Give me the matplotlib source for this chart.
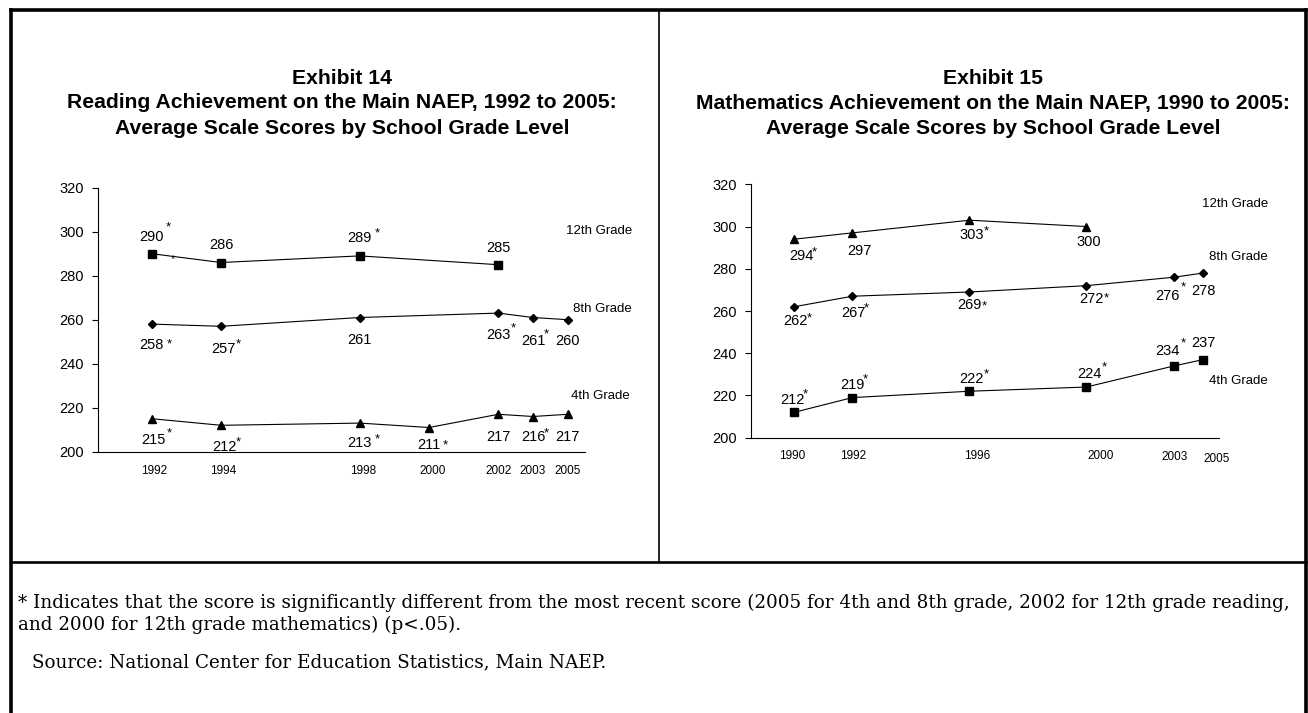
import matplotlib
matplotlib.use('Agg')
import matplotlib.pyplot as plt
from matplotlib.lines import Line2D

# Exhibit 14 - reading
read_years_12 = [1992, 1994, 1998, 2002]
read_12 = [290, 286, 289, 285]
read_12_sig = [1, 0, 1, 0]
read_years_8 = [1992, 1994, 1998, 2002, 2003, 2005]
read_8 = [258, 257, 261, 263, 261, 260]
read_8_sig = [1, 1, 0, 1, 1, 0]
read_years_4 = [1992, 1994, 1998, 2000, 2002, 2003, 2005]
read_4 = [215, 212, 213, 211, 217, 216, 217]
read_4_sig = [1, 1, 1, 1, 0, 1, 0]
read_ticks = ['1992', '1994', '1998', '2000', '2002', '2003', '2005']

# Exhibit 15 - mathematics
math_years_12 = [1990, 1992, 1996, 2000]
math_12 = [294, 297, 303, 300]
math_12_sig = [1, 0, 1, 0]
math_years = [1990, 1992, 1996, 2000, 2003, 2005]
math_8 = [262, 267, 269, 272, 276, 278]
math_8_sig = [1, 1, 1, 1, 1, 0]
math_4 = [212, 219, 222, 224, 234, 237]
math_4_sig = [1, 1, 1, 1, 1, 0]
math_ticks = ['1990', '1992', '1996', '2000', '2003', '2005']

W, H = 1308, 713
SANS = 'Liberation Sans'
LBL = 10.5   # data label size
STAR = 9.5


def xp(year):
    # the original charts squeeze 2005 right next to 2003
    return 2004 if year == 2005 else year


def fx(px):
    return px / W


def fy(py):
    return 1 - py / H


def series(ax, years, vals, sig, marker, ms, lab_off, star_off):
    xs = [xp(y) for y in years]
    ax.plot(xs, vals, color='black', lw=0.8, marker=marker, markersize=ms,
            markerfacecolor='black', markeredgecolor='black', clip_on=False)
    for i, (x, v) in enumerate(zip(xs, vals)):
        dx, dy = lab_off[i]
        # baseline so that digit centre sits dy px away from the marker
        ax.annotate(str(v), (x, v), xytext=(dx, dy - 0.36 * LBL / 0.72),
                    textcoords='offset pixels', ha='center', va='baseline',
                    fontsize=LBL, family=SANS)
        if sig[i]:
            sx, sy = star_off[i] if star_off[i] else (15, 8)
            ax.annotate('*', (x, v), xytext=(dx + sx, dy + sy - 0.58 * STAR / 0.72),
                        textcoords='offset pixels', ha='center', va='baseline',
                        fontsize=STAR, family=SANS)


def setup(ax, xmin, xmax, ticks, tick_years, tick_dx, tick_dy):
    ax.set_xlim(xmin, xmax)
    ax.set_ylim(200, 320)
    ax.set_yticks(range(200, 321, 20))
    ax.tick_params(axis='y', length=4, width=0.8, pad=6, labelsize=10.5)
    for lab in ax.get_yticklabels():
        lab.set_family(SANS)
    ax.set_xticks([])
    for s in ['top', 'right']:
        ax.spines[s].set_visible(False)
    ax.spines['left'].set_linewidth(0.8)
    ax.spines['bottom'].set_linewidth(0.8)
    for i, (t, y) in enumerate(zip(ticks, tick_years)):
        ax.annotate(t, (xp(y), 0), xycoords=('data', 'axes fraction'),
                    xytext=(tick_dx[i], -tick_dy[i]), textcoords='offset pixels',
                    ha='center', va='center', fontsize=8.5, family=SANS,
                    annotation_clip=False)


fig = plt.figure(figsize=(W / 100, H / 100), dpi=100)

# ---- Exhibit 14 ----
ax1 = fig.add_axes([fx(98), fy(451.7), fx(585 - 98), (451.7 - 187.7) / H])
setup(ax1, 1990.45, 2004.5, read_ticks, [1992, 1994, 1998, 2000, 2002, 2003, 2005],
      [2, 2, 3, 4, 0, 0, 0], [19] * 7)
series(ax1, read_years_12, read_12, read_12_sig, 's', 6,
       [(0, 18), (0, 19), (0, 19), (0, 18)],
       [(17, 13), None, (18, 8), None])
series(ax1, read_years_8, read_8, read_8_sig, 'D', 4.5,
       [(0, -20), (2, -21), (0, -21), (0, -21), (0, -22), (0, -20)],
       [(18, 4), (15, 8), None, (15, 10), (13, 10), None])
series(ax1, read_years_4, read_4, read_4_sig, '^', 6,
       [(2, -20), (3, -20), (0, -19), (0, -16), (0, -21), (0, -19), (0, -21)],
       [(16, 10), (14, 8), (18, 7), (16, 3), None, (13, 7), None])
# stray asterisk sitting on the 12th grade line
ax1.annotate('*', (1992.6, 289), xytext=(0, -0.58 * 8 / 0.72), textcoords='offset pixels',
             ha='center', va='baseline', fontsize=8, family=SANS)
ax1.text(2004.9, 300.5, '12th Grade', ha='center', va='center', fontsize=9.5, family=SANS)
ax1.text(2005.0, 265, '8th Grade', ha='center', va='center', fontsize=9.5, family=SANS)
ax1.text(2004.95, 225.5, '4th Grade', ha='center', va='center', fontsize=9.5, family=SANS)

# ---- Exhibit 15 ----
ax2 = fig.add_axes([fx(751), fy(437.7), fx(1219.4 - 751), (437.7 - 184.3) / H])
setup(ax2, 1988.53, 2004.55, math_ticks, math_years,
      [-2, 1, 8, 14, 0, 13], [18, 18, 18, 18, 19, 21])
series(ax2, math_years_12, math_12, math_12_sig, '^', 6,
       [(7, -16), (7, -17), (2, -14), (2, -14)],
       [(13, 7), None, (15, 7), None])
series(ax2, math_years, math_8, math_8_sig, 'D', 4.5,
       [(1, -13), (1, -16), (0, -12), (5, -12), (-7, -18), (0, -17)],
       [(14, 6), (13, 8), (15, 2), (15, 4), (16, 12), None])
series(ax2, math_years, math_4, math_4_sig, 's', 6,
       [(-2, 14), (0, 14), (2, 13), (3, 14), (-7, 16), (0, 18)],
       [(13, 9), (13, 9), (15, 8), (15, 10), (16, 11), None])
ax2.text(2005.1, 310.5, '12th Grade', ha='center', va='center', fontsize=9.5, family=SANS)
ax2.text(2005.2, 285.5, '8th Grade', ha='center', va='center', fontsize=9.5, family=SANS)
ax2.text(2005.2, 226.8, '4th Grade', ha='center', va='center', fontsize=9.5, family=SANS)

# ---- titles ----
titles = [
    ['Exhibit 14', 'Reading Achievement on the Main NAEP, 1992 to 2005:',
     'Average Scale Scores by School Grade Level'],
    ['Exhibit 15', 'Mathematics Achievement on the Main NAEP, 1990 to 2005:',
     'Average Scale Scores by School Grade Level'],
]
for cx, lines in zip([342, 993], titles):
    for ly, line in zip([78, 103, 128], lines):
        fig.text(fx(cx), fy(ly), line, ha='center', va='center', fontsize=15.2,
                 fontweight='bold', family=SANS)

# ---- frame ----
def fline(x0, y0, x1, y1, lw):
    fig.add_artist(Line2D([fx(x0), fx(x1)], [fy(y0), fy(y1)], color='black',
                          lw=lw, solid_capstyle='projecting'))


fline(10.7, 9.8, 1305.5, 9.8, 2.6)
fline(10.7, 9.8, 10.7, 713, 2.6)
fline(1305.5, 9.8, 1305.5, 713, 2.6)
fline(659.3, 9.8, 659.3, 561.7, 1.2)
fline(10.7, 561.7, 1305.5, 561.7, 1.9)

# ---- footnotes ----
SERIF = 'DejaVu Serif'
FN = 13.25
fig.text(fx(18.4), fy(602.7),
         '* Indicates that the score is significantly different from the most recent score '
         '(2005 for 4th and 8th grade, 2002 for 12th grade reading,',
         ha='left', va='center', fontsize=FN, family=SERIF)
fig.text(fx(18.4), fy(624.8), 'and 2000 for 12th grade mathematics) (p<.05).',
         ha='left', va='center', fontsize=FN, family=SERIF)
fig.text(fx(31.7), fy(662.7), 'Source: National Center for Education Statistics, Main NAEP.',
         ha='left', va='center', fontsize=FN, family=SERIF)

fig.savefig('out.png', dpi=100)
